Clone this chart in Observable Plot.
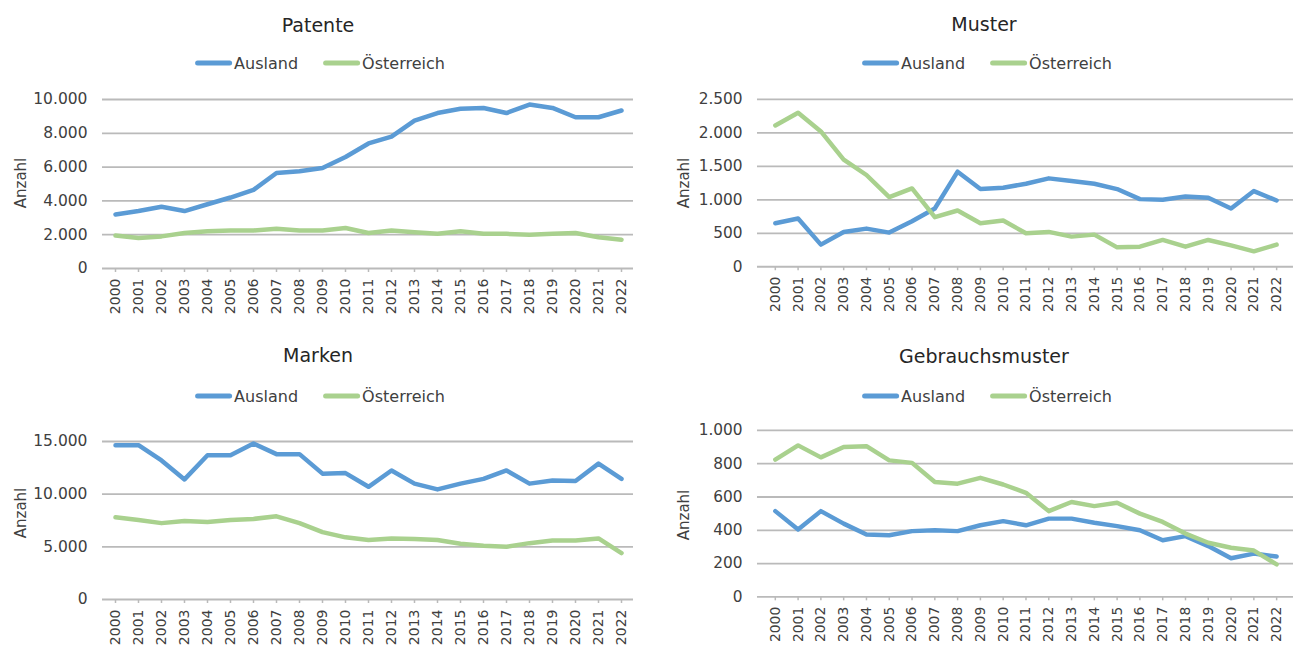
<!DOCTYPE html>
<html>
<head>
<meta charset="utf-8">
<script src="https://cdn.jsdelivr.net/npm/d3@7"></script>
<script src="https://cdn.jsdelivr.net/npm/@observablehq/plot@0.6"></script>
<style>
  html, body { margin: 0; padding: 0; background: #fff; overflow: hidden; }
  #root { position: relative; width: 1293px; height: 647px; overflow: hidden; font-family: "DejaVu Sans", sans-serif; }
  .abs { position: absolute; }
  .title { font-size: 19px; color: #262626; transform: translate(-50%, -50%); white-space: nowrap; }
  .legend { display: flex; align-items: center; transform: translate(-50%, -50%); white-space: nowrap; font-size: 16px; color: #404040; }
  .sw { display: inline-block; width: 37px; height: 5px; border-radius: 3px; margin-right: 2px; }
  .gap { display: inline-block; width: 25px; }
  .ylab { font-size: 15px; color: #404040; transform: translate(-50%, -50%) rotate(-90deg); white-space: nowrap; }
</style>
</head>
<body>
<div id="root"></div>
<script>
const years = ["2000","2001","2002","2003","2004","2005","2006","2007","2008","2009","2010","2011","2012","2013","2014","2015","2016","2017","2018","2019","2020","2021","2022"];
const seriesNames = ["Ausland", "Österreich"];

const patenteAusland = [3200,3400,3650,3400,3800,4200,4650,5650,5750,5950,6600,7400,7800,8750,9200,9450,9500,9200,9700,9500,8950,8950,9350];
const patenteOesterreich = [1950,1800,1900,2100,2200,2250,2250,2350,2250,2250,2400,2100,2250,2150,2050,2200,2050,2050,2000,2050,2100,1850,1700];

const musterAusland = [650,720,330,520,570,510,680,870,1420,1160,1180,1240,1320,1280,1240,1160,1010,1000,1050,1030,870,1130,990];
const musterOesterreich = [2110,2300,2020,1600,1370,1040,1170,740,840,650,690,500,520,450,480,290,300,400,300,400,320,230,330];

const markenAusland = [14650,14650,13200,11400,13700,13700,14800,13800,13800,11950,12000,10700,12250,11000,10450,11000,11450,12250,11000,11300,11250,12900,11450];
const markenOesterreich = [7800,7550,7250,7450,7350,7550,7650,7900,7250,6400,5900,5650,5800,5750,5650,5300,5100,5000,5350,5600,5600,5800,4400];

const gebrauchsAusland = [515,405,515,440,375,370,395,400,395,430,455,430,470,470,445,425,400,340,365,305,232,260,242];
const gebrauchsOesterreich = [825,910,838,900,905,820,805,690,680,715,675,625,515,570,545,565,500,450,380,325,295,278,195];

const patenteTicks = [0,2000,4000,6000,8000,10000];
const musterTicks = [0,500,1000,1500,2000,2500];
const markenTicks = [0,5000,10000,15000];
const gebrauchsTicks = [0,200,400,600,800,1000];

const titles = ["Patente", "Muster", "Marken", "Gebrauchsmuster"];
const yLabel = "Anzahl";

const colors = ["#5b9bd5", "#a9d18e"];
const de = d3.formatLocale({decimal: ",", thousands: ".", grouping: [3], currency: ["", " €"]});
const fmt = de.format(",");

const root = document.getElementById("root");

function addDiv(cls, x, y, html) {
  const d = document.createElement("div");
  d.className = "abs " + cls;
  d.style.left = x + "px";
  d.style.top = y + "px";
  d.innerHTML = html;
  root.appendChild(d);
  return d;
}

function panel(cfg) {
  const {title, aus, oes, ticks, left, top, width, height, mL, mR, mT, mB, titleX, titleY, legX, legY, labX, labY} = cfg;
  addDiv("title", titleX, titleY, title);
  addDiv("legend", legX, legY,
    `<span class="sw" style="background:${colors[0]}"></span><span>${seriesNames[0]}</span><span class="gap"></span>` +
    `<span class="sw" style="background:${colors[1]}"></span><span>${seriesNames[1]}</span>`);
  addDiv("ylab", labX, labY, yLabel);

  const chart = Plot.plot({
    width, height,
    marginLeft: mL, marginRight: mR, marginTop: mT, marginBottom: mB,
    style: {fontFamily: "DejaVu Sans, sans-serif", background: "transparent", overflow: "visible"},
    x: {type: "point", domain: years, padding: 0.5},
    y: {domain: [0, ticks[ticks.length - 1]]},
    marks: [
      Plot.ruleY(ticks, {stroke: "#bababa", strokeWidth: 1.8}),
      Plot.axisY({ticks, tickSize: 0, tickPadding: 15, tickFormat: fmt, fontSize: 15.5, fill: "#404040", label: null}),
      Plot.axisX({tickRotate: -90, tickSize: 4, tickPadding: 6, fontSize: 14, stroke: "#bababa", strokeWidth: 1.5, fill: "#404040", label: null}),
      Plot.lineY(aus, {x: years, y: aus, stroke: colors[0], strokeWidth: 4.5, strokeLinejoin: "round", strokeLinecap: "round"}),
      Plot.lineY(oes, {x: years, y: oes, stroke: colors[1], strokeWidth: 4.5, strokeLinejoin: "round", strokeLinecap: "round"})
    ]
  });
  const wrap = document.createElement("div");
  wrap.className = "abs";
  wrap.style.left = left + "px";
  wrap.style.top = top + "px";
  wrap.appendChild(chart);
  root.appendChild(wrap);
}

panel({title: titles[0], aus: patenteAusland, oes: patenteOesterreich, ticks: patenteTicks,
  left: 0, top: 80, width: 646, height: 250, mL: 102, mR: 13, mT: 19, mB: 62,
  titleX: 318, titleY: 25, legX: 320, legY: 63, labX: 21, labY: 183});
panel({title: titles[1], aus: musterAusland, oes: musterOesterreich, ticks: musterTicks,
  left: 646, top: 80, width: 653, height: 250, mL: 112, mR: 0, mT: 19, mB: 62,
  titleX: 984, titleY: 24, legX: 987, legY: 63, labX: 684, labY: 183});
panel({title: titles[2], aus: markenAusland, oes: markenOesterreich, ticks: markenTicks,
  left: 0, top: 420, width: 646, height: 227, mL: 102, mR: 13, mT: 21, mB: 48,
  titleX: 318, titleY: 355, legX: 320, legY: 396, labX: 21, labY: 513});
panel({title: titles[3], aus: gebrauchsAusland, oes: gebrauchsOesterreich, ticks: gebrauchsTicks,
  left: 646, top: 420, width: 653, height: 227, mL: 112, mR: 0, mT: 10, mB: 49,
  titleX: 984, titleY: 356, legX: 987, legY: 396, labX: 684, labY: 515});
</script>
</body>
</html>
